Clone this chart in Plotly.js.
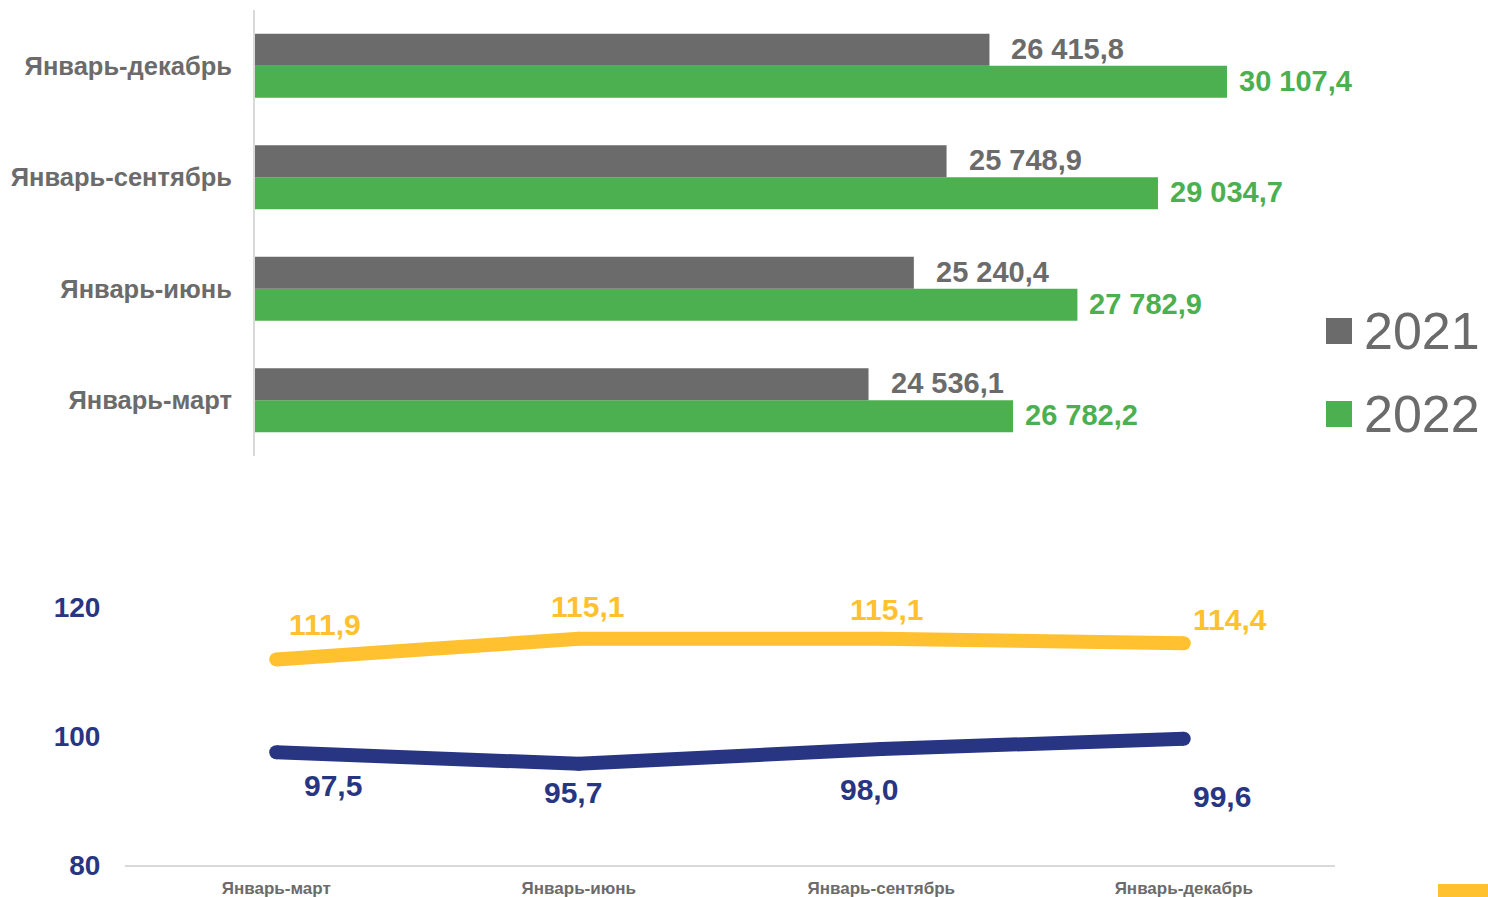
<!DOCTYPE html>
<html>
<head>
<meta charset="utf-8">
<script src="https://cdn.plot.ly/plotly-3.0.1.min.js"></script>
<style>
  html, body { margin: 0; padding: 0; background: #ffffff; }
  #chart { width: 1488px; height: 897px; }
</style>
</head>
<body>
<div id="chart"></div>
<script>
// ---- data ----
const barCategories = ['Январь-март', 'Январь-июнь', 'Январь-сентябрь', 'Январь-декабрь'];
const values2021 = [24536.1, 25240.4, 25748.9, 26415.8];
const values2022 = [26782.2, 27782.9, 29034.7, 30107.4];
const seriesNames = ['2021', '2022'];

const lineCategories = ['Январь-март', 'Январь-июнь', 'Январь-сентябрь', 'Январь-декабрь'];
const yellowValues = [111.9, 115.1, 115.1, 114.4];
const navyValues = [97.5, 95.7, 98.0, 99.6];
const lineTicks = [80, 100, 120];

// ---- style ----
const W = 1488, H = 897;
const FONT = 'Liberation Sans, Arial, sans-serif';
const GRAY = '#6b6b6b';
const GREEN = '#4caf50';
const YELLOW = '#ffc12f';
const NAVY = '#283583';
const AXIS = '#d9d9d9';

function fmt(v) {
  const parts = v.toFixed(1).split('.');
  const int = parts[0].replace(/\B(?=(\d{3})+(?!\d))/g, ' ');
  return int + ',' + parts[1];
}
const px = x => x / W;
const py = y => 1 - y / H;

const traces = [
  {
    type: 'bar', orientation: 'h', name: seriesNames[1],
    x: values2022, y: barCategories, xaxis: 'x', yaxis: 'y',
    marker: { color: GREEN }, hoverinfo: 'x', showlegend: false
  },
  {
    type: 'bar', orientation: 'h', name: seriesNames[0],
    x: values2021, y: barCategories, xaxis: 'x', yaxis: 'y',
    marker: { color: GRAY }, hoverinfo: 'x', showlegend: false
  },
  {
    type: 'scatter', mode: 'lines+markers',
    x: lineCategories, y: yellowValues, xaxis: 'x2', yaxis: 'y2',
    line: { color: YELLOW, width: 14 },
    marker: { color: YELLOW, size: 14, line: { width: 0 } },
    showlegend: false
  },
  {
    type: 'scatter', mode: 'lines+markers',
    x: lineCategories, y: navyValues, xaxis: 'x2', yaxis: 'y2',
    line: { color: NAVY, width: 14 },
    marker: { color: NAVY, size: 14, line: { width: 0 } },
    showlegend: false
  }
];

const annotations = [];
// bar value labels
barCategories.forEach((c, i) => {
  annotations.push({
    xref: 'x', yref: 'y', x: values2021[i], y: c,
    text: fmt(values2021[i]), showarrow: false,
    xanchor: 'left', yanchor: 'middle', xshift: 20, yshift: 17,
    font: { family: FONT, size: 29, color: GRAY, weight: 'bold' }
  });
  annotations.push({
    xref: 'x', yref: 'y', x: values2022[i], y: c,
    text: fmt(values2022[i]), showarrow: false,
    xanchor: 'left', yanchor: 'middle', xshift: 10, yshift: -15,
    font: { family: FONT, size: 29, color: GREEN, weight: 'bold' }
  });
});
// line value labels
const yShiftX = [49, 9, 5, 46], yShiftY = [35, 32, 29, 24];
const nShiftX = [57, -6, -12, 38], nShiftY = [-33, -29, -40, -58];
lineCategories.forEach((c, i) => {
  annotations.push({
    xref: 'x2', yref: 'y2', x: c, y: yellowValues[i],
    text: fmt(yellowValues[i]), showarrow: false,
    xanchor: 'center', yanchor: 'middle', xshift: yShiftX[i], yshift: yShiftY[i],
    font: { family: FONT, size: 30, color: YELLOW, weight: 'bold' }
  });
  annotations.push({
    xref: 'x2', yref: 'y2', x: c, y: navyValues[i],
    text: fmt(navyValues[i]), showarrow: false,
    xanchor: 'center', yanchor: 'middle', xshift: nShiftX[i], yshift: nShiftY[i],
    font: { family: FONT, size: 30, color: NAVY, weight: 'bold' }
  });
});
// legend text
annotations.push({
  xref: 'paper', yref: 'paper', x: px(1362), y: py(331), text: seriesNames[0],
  showarrow: false, xanchor: 'left', yanchor: 'middle',
  font: { family: FONT, size: 52, color: GRAY }
});
annotations.push({
  xref: 'paper', yref: 'paper', x: px(1362), y: py(414), text: seriesNames[1],
  showarrow: false, xanchor: 'left', yanchor: 'middle',
  font: { family: FONT, size: 52, color: GRAY }
});

const shapes = [
  { type: 'rect', xref: 'paper', yref: 'paper', x0: px(1326), x1: px(1352), y0: py(344), y1: py(318),
    fillcolor: GRAY, line: { width: 0 } },
  { type: 'rect', xref: 'paper', yref: 'paper', x0: px(1326), x1: px(1352), y0: py(427), y1: py(401),
    fillcolor: GREEN, line: { width: 0 } },
  { type: 'rect', xref: 'paper', yref: 'paper', x0: px(1438), x1: px(1488), y0: py(897), y1: py(884),
    fillcolor: YELLOW, line: { width: 0 } }
];

const layout = {
  width: W, height: H,
  margin: { l: 0, r: 0, t: 0, b: 0, pad: 0 },
  paper_bgcolor: '#ffffff', plot_bgcolor: 'rgba(0,0,0,0)',
  font: { family: FONT, color: GRAY },
  showlegend: false,
  barmode: 'group', bargap: 0.426, bargroupgap: 0,
  xaxis: {
    domain: [px(255), px(1284.4)], range: [15000, 31000],
    showgrid: false, zeroline: false, showticklabels: false, showline: false,
    anchor: 'y'
  },
  yaxis: {
    domain: [py(456), py(10)], type: 'category', range: [-0.5, 3.5],
    showgrid: false, zeroline: false,
    showline: true, linecolor: AXIS, linewidth: 2,
    ticks: 'outside', ticklen: 16, tickcolor: 'rgba(0,0,0,0)',
    tickfont: { family: FONT, size: 25.5, color: GRAY, weight: 'bold' },
    anchor: 'x'
  },
  xaxis2: {
    domain: [px(125), px(1335)], type: 'category', range: [-0.5, 3.5],
    showgrid: false, zeroline: false,
    showline: true, linecolor: AXIS, linewidth: 2,
    ticks: 'outside', ticklen: 7, tickcolor: 'rgba(0,0,0,0)',
    tickfont: { family: FONT, size: 17, color: GRAY, weight: 'bold' },
    anchor: 'y2'
  },
  yaxis2: {
    domain: [py(865), py(575)], range: [80, 125],
    tickvals: lineTicks, ticktext: lineTicks.map(String),
    showgrid: false, zeroline: false, showline: false,
    ticks: 'outside', ticklen: 18, tickcolor: 'rgba(0,0,0,0)',
    tickfont: { family: FONT, size: 28, color: NAVY, weight: 'bold' },
    anchor: 'x2'
  },
  annotations: annotations,
  shapes: shapes
};

Plotly.newPlot('chart', traces, layout, { displayModeBar: false, staticPlot: true });
</script>
</body>
</html>
